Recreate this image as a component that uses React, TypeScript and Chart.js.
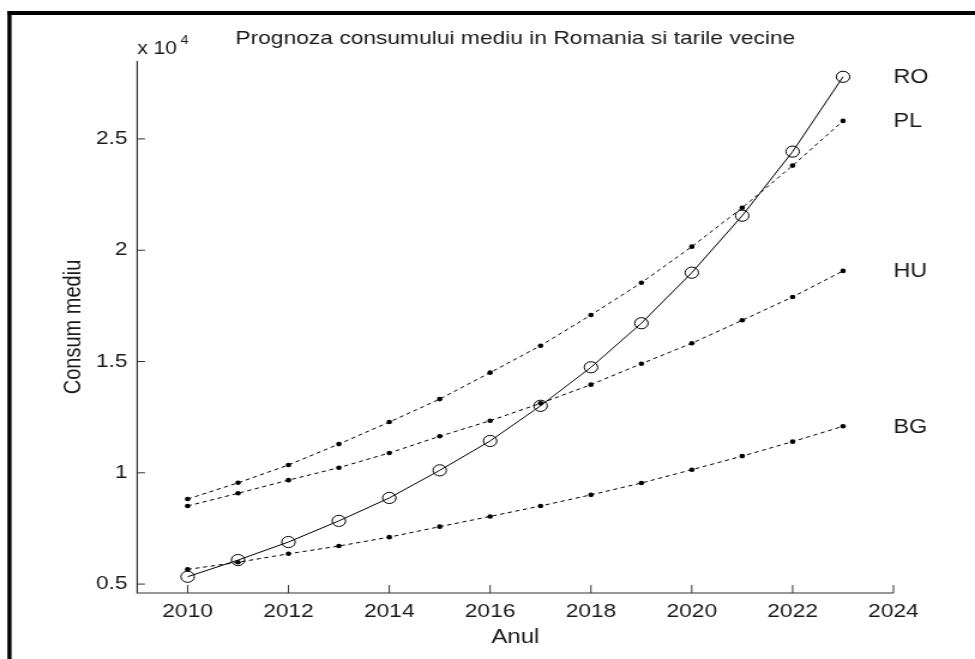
import React, { useEffect, useRef } from 'react';
import { Chart, registerables } from 'chart.js';

Chart.register(...registerables);

// ---- data ----
const years = [2010, 2011, 2012, 2013, 2014, 2015, 2016, 2017, 2018, 2019, 2020, 2021, 2022, 2023];
const roValues = [5330, 6080, 6890, 7840, 8870, 10110, 11430, 13010, 14740, 16720, 18990, 21550, 24430, 27790];
const plValues = [8820, 9550, 10350, 11290, 12280, 13310, 14500, 15710, 17090, 18540, 20160, 21910, 23800, 25810];
const huValues = [8510, 9080, 9670, 10230, 10890, 11640, 12340, 13120, 13960, 14900, 15820, 16850, 17900, 19070];
const bgValues = [5660, 5980, 6360, 6710, 7110, 7580, 8040, 8510, 9010, 9540, 10140, 10750, 11400, 12090];
const seriesNames = ['RO', 'PL', 'HU', 'BG'];

const xTickValues = [2010, 2012, 2014, 2016, 2018, 2020, 2022, 2024];
const xTickLabels = ['2010', '2012', '2014', '2016', '2018', '2020', '2022', '2024'];
const yTickValues = [5000, 10000, 15000, 20000, 25000];
const yTickLabels = ['0.5', '1', '1.5', '2', '2.5'];

const titleText = 'Prognoza consumului mediu in Romania si tarile vecine';
const xTitleText = 'Anul';
const yTitleText = 'Consum mediu';
const exponentBase = 'x 10';
const exponentPower = '4';

const xMin = 2009;
const xMax = 2024;
const yMin = 4600;
const yMax = 28500;

// canvas is rendered narrower and stretched horizontally (like the reference)
const W = 813;
const H = 659;
const FONT = '"Liberation Sans", Arial, Helvetica, sans-serif';
const TEXT = '#1a1a1a';

const toPoints = (vals: number[]) => vals.map((v, i) => ({ x: years[i], y: v }));

const decor = {
  id: 'decor',
  beforeDraw(chart: any) {
    const { ctx, width, height } = chart;
    ctx.save();
    ctx.fillStyle = '#ffffff';
    ctx.fillRect(0, 0, width, height);
    ctx.restore();
  },
  afterDraw(chart: any) {
    const { ctx, chartArea, scales } = chart;
    const { left, right, top, bottom } = chartArea;
    const x = scales.x;
    const y = scales.y;
    ctx.save();
    // axes lines
    ctx.strokeStyle = '#333';
    ctx.lineWidth = 1.2;
    ctx.beginPath();
    ctx.moveTo(left, top);
    ctx.lineTo(left, bottom);
    ctx.lineTo(right, bottom);
    ctx.stroke();
    // inward ticks
    ctx.lineWidth = 1;
    ctx.beginPath();
    xTickValues.forEach((v) => {
      const px = x.getPixelForValue(v);
      ctx.moveTo(px, bottom);
      ctx.lineTo(px, bottom - 8);
    });
    yTickValues.forEach((v) => {
      const py = y.getPixelForValue(v);
      ctx.moveTo(left, py);
      ctx.lineTo(left + 6.5, py);
    });
    ctx.stroke();

    // title
    ctx.fillStyle = TEXT;
    ctx.font = `19px ${FONT}`;
    ctx.textAlign = 'center';
    ctx.textBaseline = 'middle';
    ctx.fillText(titleText, (left + right) / 2, 39);

    // exponent label
    ctx.textAlign = 'left';
    ctx.textBaseline = 'alphabetic';
    ctx.font = `17.5px ${FONT}`;
    ctx.fillText(exponentBase, left, 54);
    const w = ctx.measureText(exponentBase).width;
    ctx.font = `12px ${FONT}`;
    ctx.fillText(exponentPower, left + w + 3, 44);

    // series labels at the end of the lines
    const lastVals = [roValues, plValues, huValues, bgValues].map((a) => a[a.length - 1]);
    ctx.font = `19.5px ${FONT}`;
    ctx.textBaseline = 'middle';
    seriesNames.forEach((name, i) => {
      ctx.fillText(name, x.getPixelForValue(xMax), y.getPixelForValue(lastVals[i]) + 1);
    });

    // figure frame (top and left)
    ctx.fillStyle = '#000';
    ctx.fillRect(6.2, 11, W - 6.2, 4);
    ctx.fillRect(6.2, 11, 3.4, H - 11);
    ctx.restore();
  },
};

const dashed = (label: string, vals: number[]) => ({
  label,
  data: toPoints(vals),
  borderColor: '#000',
  borderWidth: 1,
  borderDash: [3.5, 3],
  pointStyle: 'circle',
  pointRadius: 2.3,
  pointBorderWidth: 0,
  pointBackgroundColor: '#000',
  fill: false,
  tension: 0,
});

export default function App() {
  const ref = useRef<HTMLCanvasElement | null>(null);

  useEffect(() => {
    if (!ref.current) return;
    const chart = new Chart(ref.current, {
      type: 'line',
      data: {
        datasets: [
          dashed('PL', plValues),
          dashed('HU', huValues),
          dashed('BG', bgValues),
          {
            label: 'RO',
            data: toPoints(roValues),
            borderColor: '#000',
            borderWidth: 1,
            pointStyle: 'circle',
            pointRadius: 5.6,
            pointBorderWidth: 1,
            pointBorderColor: '#000',
            pointBackgroundColor: 'rgba(0,0,0,0)',
            fill: false,
            tension: 0,
          },
        ],
      },
      options: {
        animation: false,
        responsive: false,
        devicePixelRatio: 1,
        events: [],
        layout: { padding: { top: 61, right: 68, bottom: 0, left: 0 } },
        plugins: {
          legend: { display: false },
          tooltip: { enabled: false },
          title: { display: false },
        },
        scales: {
          x: {
            type: 'linear',
            min: xMin,
            max: xMax,
            grid: { display: false, drawTicks: false },
            border: { display: false },
            afterBuildTicks: (s: any) => {
              s.ticks = xTickValues.map((v) => ({ value: v }));
            },
            afterFit: (s: any) => {
              s.height = 66;
            },
            ticks: {
              autoSkip: false,
              maxRotation: 0,
              padding: 7,
              color: TEXT,
              font: { family: FONT, size: 19 },
              callback: (v: any) => xTickLabels[xTickValues.indexOf(Number(v))] ?? '',
            },
            title: {
              display: true,
              text: xTitleText,
              color: TEXT,
              font: { family: FONT, size: 20 },
              padding: { top: 0, bottom: 10 },
            },
          },
          y: {
            type: 'linear',
            min: yMin,
            max: yMax,
            grid: { display: false, drawTicks: false },
            border: { display: false },
            afterBuildTicks: (s: any) => {
              s.ticks = yTickValues.map((v) => ({ value: v }));
            },
            afterFit: (s: any) => {
              s.width = 114.4;
            },
            ticks: {
              padding: 8,
              color: TEXT,
              font: { family: FONT, size: 19 },
              callback: (v: any) => yTickLabels[yTickValues.indexOf(Number(v))] ?? '',
            },
            title: {
              display: true,
              text: yTitleText,
              color: TEXT,
              font: { family: FONT, size: 20 },
              padding: { top: 49.7, bottom: 0 },
            },
          },
        },
      },
      plugins: [decor],
    } as any);
    return () => chart.destroy();
  }, []);

  return (
    <div style={{ position: 'fixed', left: 0, top: 0, width: 975, height: 659, background: '#fff' }}>
      <canvas
        ref={ref}
        width={W}
        height={H}
        style={{ width: '975px', height: '659px', display: 'block' }}
      />
    </div>
  );
}
